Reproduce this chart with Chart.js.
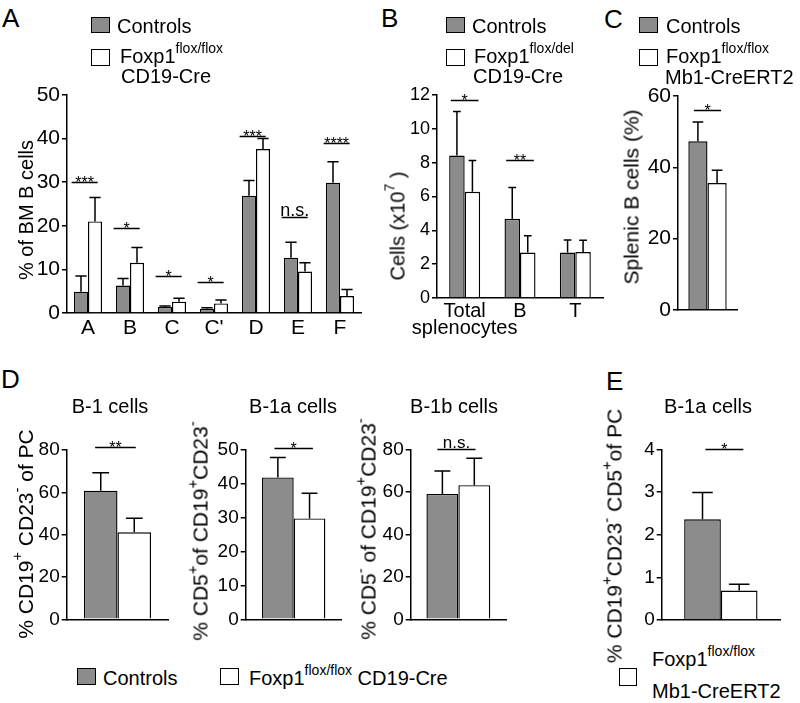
<!DOCTYPE html>
<html>
<head>
<meta charset="utf-8">
<script src="https://cdn.jsdelivr.net/npm/chart.js@4.4.1/dist/chart.umd.min.js"></script>
<style>
  body { margin: 0; background: #fff; }
  #fig { position: relative; width: 800px; height: 703px; overflow: hidden;
         font-family: "Liberation Sans", Arial, Helvetica, sans-serif; color: #000; }
  #fig canvas { position: absolute; }
  .t { position: absolute; font-size: 20px; line-height: 20px; white-space: nowrap; }
  .t sup, .yt sup { font-size: 0.7em; vertical-align: 0.7em; line-height: 0; }
  .big { font-size: 26px; line-height: 26px; }
  .c { transform: translateX(-50%); }
  .yt { position: absolute; white-space: nowrap; font-size: 21px; line-height: 21px;
        transform: translate(-50%, -50%) rotate(-90deg); }
  .box { position: absolute; border: 1.5px solid #000; box-sizing: border-box; }
  .gray { background: #8c8c8c; }
  .white { background: #fff; }
</style>
</head>
<body>
<div id="fig">
  <!-- panel letters -->
  <div class="t big" style="left:2px;top:5px">A</div>
  <div class="t big" style="left:381px;top:5px">B</div>
  <div class="t big" style="left:604px;top:6px">C</div>
  <div class="t big" style="left:1px;top:366px">D</div>
  <div class="t big" style="left:606px;top:368px">E</div>

  <!-- legend A -->
  <div class="box gray" style="left:91px;top:17px;width:19px;height:16px"></div>
  <div class="t" style="left:117px;top:16px">Controls</div>
  <div class="box white" style="left:91px;top:49px;width:19px;height:17px"></div>
  <div class="t" style="left:120px;top:46px">Foxp1<sup>flox/flox</sup></div>
  <div class="t" style="left:121px;top:66px">CD19-Cre</div>

  <!-- legend B -->
  <div class="box gray" style="left:446px;top:17px;width:19px;height:16px"></div>
  <div class="t" style="left:472px;top:16px">Controls</div>
  <div class="box white" style="left:446px;top:49px;width:19px;height:17px"></div>
  <div class="t" style="left:474px;top:46px">Foxp1<sup>flox/del</sup></div>
  <div class="t" style="left:473px;top:66px">CD19-Cre</div>

  <!-- legend C -->
  <div class="box gray" style="left:639px;top:17px;width:19px;height:16px"></div>
  <div class="t" style="left:666px;top:16px">Controls</div>
  <div class="box white" style="left:639px;top:49px;width:19px;height:17px"></div>
  <div class="t" style="left:666px;top:46px">Foxp1<sup>flox/flox</sup></div>
  <div class="t" style="left:665px;top:67px">Mb1-CreERT2</div>

  <!-- subplot titles -->
  <div class="t c" style="left:110px;top:396px">B-1 cells</div>
  <div class="t c" style="left:293px;top:396px">B-1a cells</div>
  <div class="t c" style="left:454px;top:396px">B-1b cells</div>
  <div class="t c" style="left:708px;top:396px">B-1a cells</div>

  <!-- legend D -->
  <div class="box gray" style="left:77px;top:668px;width:19px;height:17px"></div>
  <div class="t" style="left:103px;top:668px">Controls</div>
  <div class="box white" style="left:220px;top:668px;width:19px;height:17px"></div>
  <div class="t" style="left:249px;top:668px">Foxp1<sup>flox/flox</sup> CD19-Cre</div>

  <!-- legend E -->
  <div class="box white" style="left:619px;top:668px;width:18px;height:18px"></div>
  <div class="t" style="left:652px;top:649px">Foxp1<sup>flox/flox</sup></div>
  <div class="t" style="left:652px;top:681px">Mb1-CreERT2</div>

  <!-- y axis titles -->
  <div class="yt" style="left:26px;top:210px;font-size:20px">% of BM B cells</div>
  <div class="yt" style="left:398px;top:226px;font-size:20px">Cells (x10<sup>7</sup> )</div>
  <div class="yt" style="left:631px;top:197px">Splenic B cells (%)</div>
  <div class="yt" style="left:25px;top:534px">% CD19<sup>+</sup> CD23<sup>-</sup> of PC</div>
  <div class="yt" style="left:200px;top:531px">% CD5<sup>+</sup>of CD19<sup>+</sup>CD23<sup>-</sup></div>
  <div class="yt" style="left:368px;top:529px">% CD5<sup>-</sup> of CD19<sup>+</sup>CD23<sup>-</sup></div>
  <div class="yt" style="left:614px;top:536px">% CD19<sup>+</sup>CD23<sup>-</sup> CD5<sup>+</sup>of PC</div>
</div>

<script>
// ---- data ----
// A: BM B cell fractions
const catsA = ['A', 'B', 'C', "C'", 'D', 'E', 'F'];
const ctrlA = [4.9, 6.3, 1.4, 1.0, 26.9, 12.7, 29.9];
const ctrlErrA = [3.6, 1.6, 0.2, 0.2, 3.5, 3.5, 4.8];
const koA = [21.0, 11.5, 2.6, 2.2, 37.6, 9.5, 3.9];
const koErrA = [5.5, 3.5, 0.8, 0.8, 2.4, 2.0, 1.5];
const sigA = ['***', '*', '*', '*', '***', 'n.s.', '****'];
const sigLevelA = [30.1, 19.6, 8.6, 7.2, 40.5, 22.1, 39.1];

// B: spleen cell numbers (x10^7)
const catsB = [['Total', 'splenocytes'], 'B', 'T'];
const ctrlB = [8.42, 4.68, 2.69];
const ctrlErrB = [2.6, 1.85, 0.74];
const koB = [6.28, 2.69, 2.72];
const koErrB = [1.85, 0.99, 0.7];
const sigB = ['*', '**', null];
const sigLevelB = [11.7, 8.17, null];

// C: splenic B cells (%)
const ctrlC = [47.3];
const ctrlErrC = [5.4];
const koC = [35.6];
const koErrC = [3.6];
const sigC = ['*'];
const sigLevelC = [56.2];

// D: peritoneal B-1, B-1a, B-1b
const ctrlD1 = [60.8], ctrlErrD1 = [8.5], koD1 = [41.1], koErrD1 = [6.6];
const sigD1 = ['**'], sigLevelD1 = [81.4];
const ctrlD2 = [41.9], ctrlErrD2 = [5.9], koD2 = [29.8], koErrD2 = [7.4];
const sigD2 = ['*'], sigLevelD2 = [50.7];
const ctrlD3 = [59.0], ctrlErrD3 = [10.8], koD3 = [63.1], koErrD3 = [12.7];
const sigD3 = ['n.s.'], sigLevelD3 = [80];

// E: B-1a of PC
const ctrlE = [2.36], ctrlErrE = [0.63], koE = [0.69], koErrE = [0.15];
const sigE = ['*'], sigLevelE = [4.01];

const GRAY = '#8c8c8c';
const FONT = '"Liberation Sans", Arial, Helvetica, sans-serif';
Chart.defaults.font.family = FONT;
Chart.defaults.color = '#000';

// error bars (upper only) + significance lines
const errorBars = {
    id: 'errorBars',
    afterDatasetsDraw(chart, args, opts) {
        const ctx = chart.ctx;
        const xs = chart.scales.x, ys = chart.scales.y;
        ctx.save();
        ctx.strokeStyle = '#000';
        ctx.lineWidth = 1.5;
        chart.data.datasets.forEach((ds, i) => {
            chart.getDatasetMeta(i).data.forEach((bar, j) => {
                const top = ys.getPixelForValue(ds.data[j] + ds.errors[j]);
                const cap = bar.width * opts.capFrac;
                ctx.beginPath();
                ctx.moveTo(bar.x, bar.y);
                ctx.lineTo(bar.x, top);
                ctx.moveTo(bar.x - cap, top);
                ctx.lineTo(bar.x + cap, top);
                ctx.stroke();
            });
        });
        const catW = (xs.right - xs.left) / chart.data.labels.length;
        ctx.fillStyle = '#000';
        ctx.textAlign = 'center';
        ctx.textBaseline = 'alphabetic';
        opts.sig.forEach((s, j) => {
            if (!s) return;
            const cx = xs.getPixelForValue(j) + opts.sigShift * catW;
            const ly = Math.round(ys.getPixelForValue(opts.sigLevel[j])) + 0.5;
            ctx.beginPath();
            ctx.moveTo(cx - opts.sigHalf * catW, ly);
            ctx.lineTo(cx + opts.sigHalf * catW, ly);
            ctx.stroke();
            if (s === 'n.s.') {
                ctx.font = opts.nsFont + 'px ' + FONT;
                ctx.fillText(s, cx, ly - 2);
            } else {
                ctx.font = opts.starFont + 'px ' + FONT;
                ctx.fillText(s, cx, ly + 5);
            }
        });
        ctx.restore();
    }
};

function makePanel(p) {
    const [L, T, W, H] = p.box;
    const [x0, x1, yTop, yBot] = p.axis;
    const cv = document.createElement('canvas');
    cv.width = W;
    cv.height = H;
    cv.style.left = L + 'px';
    cv.style.top = T + 'px';
    cv.style.width = W + 'px';
    cv.style.height = H + 'px';
    document.getElementById('fig').prepend(cv);
    return new Chart(cv, {
        type: 'bar',
        data: {
            labels: p.labels,
            datasets: [
                { label: 'Controls', data: p.ctrl, errors: p.ctrlErr, backgroundColor: GRAY,
                  borderColor: '#000', borderWidth: 1.4 },
                { label: 'Foxp1 KO', data: p.ko, errors: p.koErr, backgroundColor: '#fff',
                  borderColor: '#000', borderWidth: 1.4 }
            ]
        },
        options: {
            responsive: false,
            animation: false,
            devicePixelRatio: 1,
            events: [],
            layout: { padding: { top: yTop - T, right: L + W - x1, left: 0, bottom: 0 } },
            datasets: { bar: { categoryPercentage: p.catPct, barPercentage: 1 } },
            plugins: {
                legend: { display: false },
                tooltip: { enabled: false },
                errorBars: {
                    sig: p.sig, sigLevel: p.sigLevel, capFrac: p.capFrac,
                    sigHalf: p.sigHalf, sigShift: p.sigShift || 0,
                    starFont: 16, nsFont: p.nsFont || 18
                }
            },
            scales: {
                x: {
                    grid: { display: false },
                    border: { display: true, color: '#000', width: 1.5 },
                    ticks: { display: p.showX, color: '#000', padding: p.xPad || 0,
                             font: { size: p.xFont || 20, lineHeight: 0.85 },
                             maxRotation: 0, autoSkip: false },
                    afterFit(s) { s.height = T + H - yBot; }
                },
                y: {
                    min: 0, max: p.max,
                    ticks: { stepSize: p.step, color: '#000', padding: 2, font: { size: p.tickFont } },
                    grid: { drawOnChartArea: false, drawTicks: true, tickLength: 5,
                            color: '#000', lineWidth: 1.5 },
                    border: { display: true, color: '#000', width: 1.5 },
                    afterFit(s) { s.width = x0 - L; }
                }
            }
        },
        plugins: [errorBars]
    });
}

makePanel({ box: [0, 75, 370, 275], axis: [67, 361, 95, 313], labels: catsA,
    ctrl: ctrlA, ctrlErr: ctrlErrA, ko: koA, koErr: koErrA, sig: sigA, sigLevel: sigLevelA,
    max: 50, step: 10, tickFont: 21, xFont: 21, showX: true, xPad: -2,
    catPct: 0.667, capFrac: 0.4, sigHalf: 0.31, sigShift: -0.08 });

makePanel({ box: [385, 75, 225, 275], axis: [437, 603, 95, 298], labels: catsB,
    ctrl: ctrlB, ctrlErr: ctrlErrB, ko: koB, koErr: koErrB, sig: sigB, sigLevel: sigLevelB,
    max: 12, step: 2, tickFont: 18, xFont: 20, showX: true, xPad: -3,
    catPct: 0.56, capFrac: 0.25, sigHalf: 0.25 });

makePanel({ box: [615, 75, 135, 250], axis: [678, 737, 96, 310], labels: [''],
    ctrl: ctrlC, ctrlErr: ctrlErrC, ko: koC, koErr: koErrC, sig: sigC, sigLevel: sigLevelC,
    max: 60, step: 20, tickFont: 21, showX: false,
    catPct: 0.65, capFrac: 0.28, sigHalf: 0.23 });

makePanel({ box: [20, 415, 160, 220], axis: [66.7, 168.3, 450, 619.3], labels: [''],
    ctrl: ctrlD1, ctrlErr: ctrlErrD1, ko: koD1, koErr: koErrD1, sig: sigD1, sigLevel: sigLevelD1,
    max: 80, step: 20, tickFont: 19, showX: false,
    catPct: 0.66, capFrac: 0.25, sigHalf: 0.2, sigShift: -0.02 });

makePanel({ box: [195, 415, 155, 220], axis: [245.7, 341.7, 450, 619.3], labels: [''],
    ctrl: ctrlD2, ctrlErr: ctrlErrD2, ko: koD2, koErr: koErrD2, sig: sigD2, sigLevel: sigLevelD2,
    max: 50, step: 10, tickFont: 19, showX: false,
    catPct: 0.66, capFrac: 0.25, sigHalf: 0.2 });

makePanel({ box: [360, 415, 155, 220], axis: [410.7, 506, 449.3, 619.3], labels: [''],
    ctrl: ctrlD3, ctrlErr: ctrlErrD3, ko: koD3, koErr: koErrD3, sig: sigD3, sigLevel: sigLevelD3,
    max: 80, step: 20, tickFont: 19, showX: false, nsFont: 17,
    catPct: 0.67, capFrac: 0.25, sigHalf: 0.2, sigShift: -0.02 });

makePanel({ box: [620, 415, 170, 220], axis: [661.7, 780, 449.3, 620], labels: [''],
    ctrl: ctrlE, ctrlErr: ctrlErrE, ko: koE, koErr: koErrE, sig: sigE, sigLevel: sigLevelE,
    max: 4, step: 1, tickFont: 19, showX: false,
    catPct: 0.62, capFrac: 0.28, sigHalf: 0.16, sigShift: 0.03 });
</script>
</body>
</html>
